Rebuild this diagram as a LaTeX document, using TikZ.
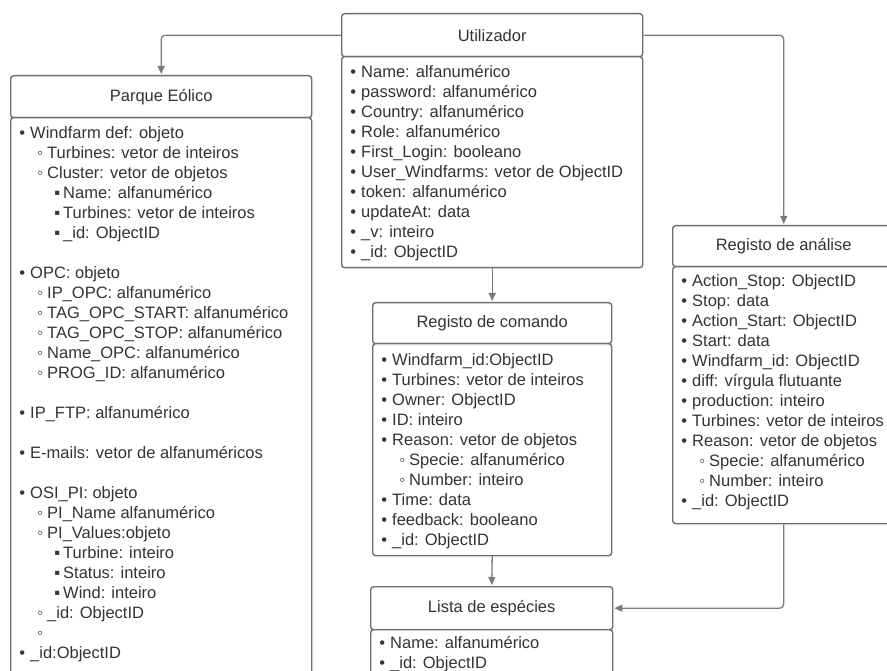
\documentclass[tikz,border=0pt]{standalone}
\usepackage{fontspec}
\setmainfont{Liberation Sans}
\usetikzlibrary{arrows.meta}
\definecolor{bd}{HTML}{6E6E6E}
\definecolor{tx}{HTML}{333333}
\definecolor{ln}{HTML}{7A7A7A}
\newcommand\bulA[1]{\hspace*{12pt}\makebox[0pt]{•}\hspace*{8pt}#1\strut}
\newcommand\bulB[1]{\hspace*{30pt}\makebox[0pt]{◦}\hspace*{7pt}#1\strut}
\newcommand\bulC[1]{\hspace*{47pt}\makebox[0pt]{▪}\hspace*{6pt}#1\strut}
\begin{document}
\begin{tikzpicture}[x=1pt,y=-1pt,
  hdr/.style={draw=bd, line width=1.4pt, rounded corners=3pt, fill=white, inner sep=0pt,
    anchor=north west, text=tx, font=\fontsize{16.5}{20}\selectfont},
  body/.style={draw=bd, line width=1.4pt, rounded corners=3pt, fill=white, inner sep=0pt, anchor=north west},
  txt/.style={anchor=north west, inner sep=0pt, align=left, text=tx, font=\fontsize{16.5}{20}\selectfont},
  conn/.style={draw=ln, line width=1.3pt, -{Triangle[length=8pt,width=7pt]}, rounded corners=4pt, shorten >=1pt}]
\useasboundingbox (0,0) rectangle (887,671);
\fill[white] (0,0) rectangle (887,671);
\clip (0,0) rectangle (887,671);

% Utilizador
\node[hdr, minimum width=301pt, minimum height=43pt] (uh) at (341,13) {Utilizador};
\node[body, minimum width=301pt, minimum height=211pt] (ub) at (341,56) {};
\node[txt] (ut) at (341,63) {%
\bulA{Name: alfanumérico}\\
\bulA{password: alfanumérico}\\
\bulA{Country: alfanumérico}\\
\bulA{Role: alfanumérico}\\
\bulA{First\_Login: booleano}\\
\bulA{User\_Windfarms: vetor de ObjectID}\\
\bulA{token: alfanumérico}\\
\bulA{updateAt: data}\\
\bulA{\_v: inteiro}\\
\bulA{\_id: ObjectID}};

% Parque Eolico
\node[hdr, minimum width=301pt, minimum height=42pt] (ph) at (10,75) {Parque Eólico};
\node[body, minimum width=301pt, minimum height=600pt] (pb) at (10,117) {};
\node[txt] (pt) at (10,124) {%
\bulA{Windfarm def: objeto}\\
\bulB{Turbines: vetor de inteiros}\\
\bulB{Cluster: vetor de objetos}\\
\bulC{Name: alfanumérico}\\
\bulC{Turbines: vetor de inteiros}\\
\bulC{\_id: ObjectID}\\
\strut\\
\bulA{OPC: objeto}\\
\bulB{IP\_OPC: alfanumérico}\\
\bulB{TAG\_OPC\_START: alfanumérico}\\
\bulB{TAG\_OPC\_STOP: alfanumérico}\\
\bulB{Name\_OPC: alfanumérico}\\
\bulB{PROG\_ID: alfanumérico}\\
\strut\\
\bulA{IP\_FTP: alfanumérico}\\
\strut\\
\bulA{E-mails: vetor de alfanuméricos}\\
\strut\\
\bulA{OSI\_PI: objeto}\\
\bulB{PI\_Name alfanumérico}\\
\bulB{PI\_Values:objeto}\\
\bulC{Turbine: inteiro}\\
\bulC{Status: inteiro}\\
\bulC{Wind: inteiro}\\
\bulB{\_id: ObjectID}\\
\bulB{}\\
\bulA{\_id:ObjectID}};

% Registo de comando
\node[hdr, minimum width=239pt, minimum height=41pt] (ch) at (372,302) {Registo de comando};
\node[body, minimum width=239pt, minimum height=212pt] (cb) at (372,343) {};
\node[txt] (ct) at (372,351) {%
\bulA{Windfarm\_id:ObjectID}\\
\bulA{Turbines: vetor de inteiros}\\
\bulA{Owner: ObjectID}\\
\bulA{ID: inteiro}\\
\bulA{Reason: vetor de objetos}\\
\bulB{Specie: alfanumérico}\\
\bulB{Number: inteiro}\\
\bulA{Time: data}\\
\bulA{feedback: booleano}\\
\bulA{\_id: ObjectID}};

% Registo de analise
\node[hdr, minimum width=222pt, minimum height=41pt] (ah) at (672,225) {Registo de análise};
\node[body, minimum width=222pt, minimum height=257pt] (ab) at (672,266) {};
\node[txt] (at) at (672,272) {%
\bulA{Action\_Stop: ObjectID}\\
\bulA{Stop: data}\\
\bulA{Action\_Start: ObjectID}\\
\bulA{Start: data}\\
\bulA{Windfarm\_id: ObjectID}\\
\bulA{diff: vírgula flutuante}\\
\bulA{production: inteiro}\\
\bulA{Turbines: vetor de inteiros}\\
\bulA{Reason: vetor de objetos}\\
\bulB{Specie: alfanumérico}\\
\bulB{Number: inteiro}\\
\bulA{\_id: ObjectID}};

% Lista de especies
\node[hdr, minimum width=242pt, minimum height=43pt] (lh) at (370,586) {Lista de espécies};
\node[body, minimum width=242pt, minimum height=100pt] (lb) at (370,629) {};
\node[txt] (lt) at (370,634) {%
\bulA{Name: alfanumérico}\\
\bulA{\_id: ObjectID}};

% connectors
\draw[conn] (uh.west) -| (ph.north);
\draw[conn] (uh.east) -| (ah.north);
\draw[conn] (ub.south) -- (ch.north);
\draw[conn] (cb.south) -- (lh.north);
\draw[conn] (ab.south) |- (lh.east);
\end{tikzpicture}
\end{document}
